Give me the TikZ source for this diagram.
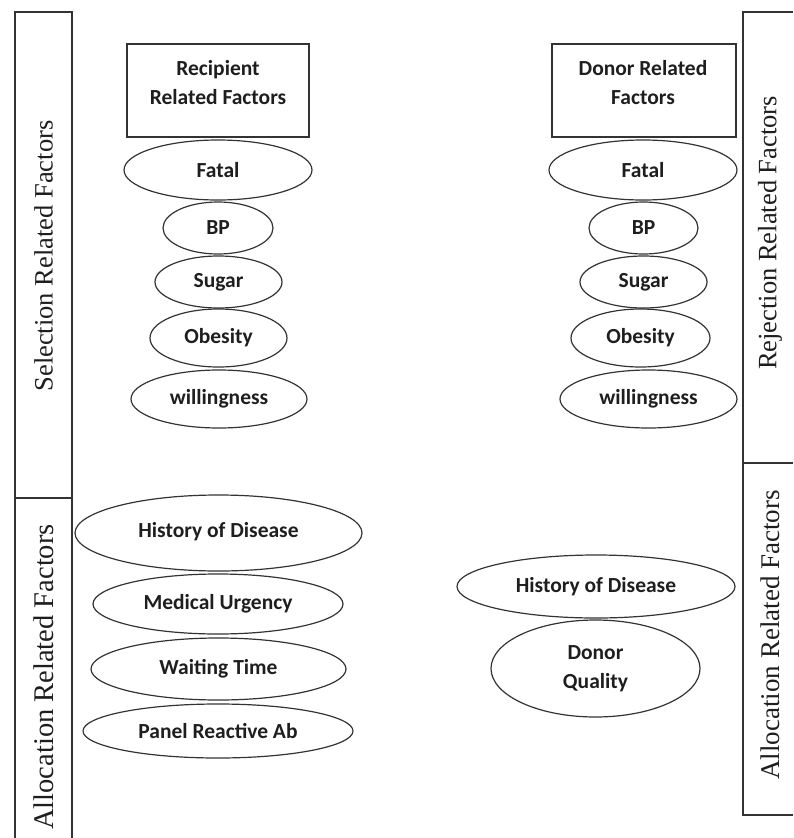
\documentclass[tikz,border=0pt]{standalone}
\usepackage{fontspec}
\setmainfont{Liberation Serif}
\newfontfamily\calib{Carlito}
\usetikzlibrary{shapes.geometric}
\definecolor{ln}{HTML}{333333}
\definecolor{tx}{HTML}{1E1E1E}
\tikzset{
  frame/.style={draw=ln, line width=1.3pt},
  oval/.style={ellipse, draw=ln, line width=1.2pt, inner sep=0pt, text=tx,
    font=\calib\bfseries\fontsize{21.5}{29}\selectfont, align=center},
  hbox/.style={rectangle, draw=ln, line width=1.2pt, inner sep=0pt},
  htext/.style={text=tx, font=\calib\bfseries\fontsize{21.5}{29}\selectfont, align=center, inner sep=0pt},
  barlabel/.style={rotate=90, text=tx, inner sep=0pt, anchor=center}
}
\begin{document}
\begin{tikzpicture}[x=1pt,y=-1pt]
\useasboundingbox (0,0) rectangle (793,838);
% left bar
\draw[frame] (15,838) -- (15,12) -- (72,12) -- (72,838);
\draw[frame] (15,498) -- (72,498);
\node[barlabel, font=\fontsize{26.5}{30}\selectfont] (sel) at (43.5,256) {Selection Related Factors};
\node[barlabel, font=\fontsize{28.5}{32}\selectfont] (allocL) at (43.5,677) {Allocation Related Factors};
% right bar
\draw[frame] (793,12) -- (743,12) -- (743,815) -- (793,815);
\draw[frame] (743,463) -- (793,463);
\node[barlabel, font=\fontsize{26.5}{30}\selectfont] (rej) at (770,233) {Rejection Related Factors};
\node[barlabel, font=\fontsize{27}{30}\selectfont] (allocR) at (770,635) {Allocation Related Factors};
% left column
\node[hbox, minimum width=182pt, minimum height=93pt] (recbox) at (218,90.5) {};
\node[htext] (rectext) at (218,82.5) {Recipient\\Related Factors};
\node[oval, minimum width=188pt, minimum height=60pt] (lfatal) at (218,170) {Fatal};
\node[oval, minimum width=110pt, minimum height=52pt] (lbp) at (218,228) {BP};
\node[oval, minimum width=127pt, minimum height=52pt] (lsugar) at (218.5,282) {Sugar};
\node[oval, minimum width=137pt, minimum height=58pt] (lobes) at (218.5,338) {Obesity};
\node[oval, minimum width=176pt, minimum height=58pt] (lwill) at (219,399) {willingness};
\node[oval, minimum width=287pt, minimum height=76pt] (lhist) at (218.5,533) {\raisebox{6pt}{History of Disease}};
\node[oval, minimum width=250pt, minimum height=60pt] (lmed) at (218,604) {Medical Urgency};
\node[oval, minimum width=255pt, minimum height=62pt] (lwait) at (218.5,669) {Waiting Time};
\node[oval, minimum width=270pt, minimum height=54pt] (lpanel) at (218,731) {Panel Reactive Ab};
% right column
\node[hbox, minimum width=184pt, minimum height=93pt] (donbox) at (644,90.5) {};
\node[htext] (dontext) at (643,82.5) {Donor Related\\Factors};
\node[oval, minimum width=188pt, minimum height=60pt] (rfatal) at (643,170) {Fatal};
\node[oval, minimum width=109pt, minimum height=52pt] (rbp) at (643.5,228) {BP};
\node[oval, minimum width=127pt, minimum height=52pt] (rsugar) at (643.5,282) {Sugar};
\node[oval, minimum width=139pt, minimum height=58pt] (robes) at (640.5,338) {Obesity};
\node[oval, minimum width=177pt, minimum height=58pt] (rwill) at (648.5,399) {willingness};
\node[oval, minimum width=278pt, minimum height=63pt] (rhist) at (596,586.5) {History of Disease};
\node[oval, minimum width=209pt, minimum height=97pt] (rqual) at (595.5,668.5) {Donor\\Quality};
\end{tikzpicture}
\end{document}
